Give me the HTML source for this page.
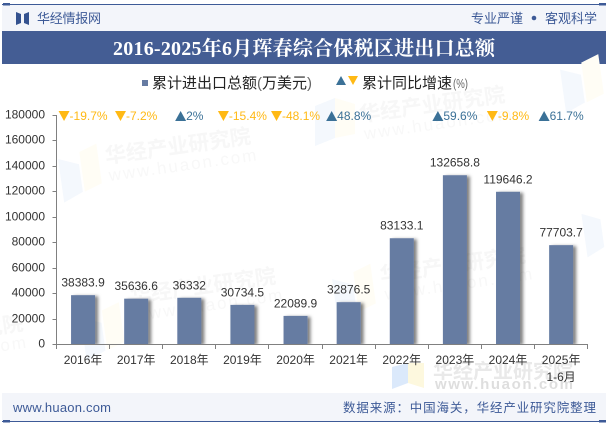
<!DOCTYPE html>
<html lang="zh-CN">
<head>
<meta charset="utf-8">
<title>2016-2025年6月珲春综合保税区进出口总额</title>
<style>
html,body{margin:0;padding:0;background:#fff;}
body{width:610px;height:425px;overflow:hidden;}
svg{display:block;}
text{font-family:"Liberation Sans","Noto Sans CJK SC",sans-serif;}
</style>
</head>
<body>
<svg id="chart" xmlns="http://www.w3.org/2000/svg" width="610" height="425" viewBox="0 0 610 425">
  <defs>
    <filter id="bar-shadow" x="-30%" y="-10%" width="180%" height="120%">
      <feDropShadow dx="3" dy="1" stdDeviation="1.6" flood-color="#000" flood-opacity="0.5"/>
    </filter>
    <clipPath id="plot-clip"><rect x="50" y="100" width="550" height="244"/></clipPath>
  </defs>

  <g>
    <rect x="2" y="5" width="604" height="26" fill="#f3f5fa"/>
    <rect x="2" y="4" width="604" height="1" fill="#3d5a97"/>
    <rect x="3" y="3" width="7" height="2.5" fill="#3d5a97"/>
    <rect x="599" y="3" width="7" height="2.5" fill="#3d5a97"/>
    <polygon points="16,12 21,14 21,23 16,25" fill="#34528f"/>
    <polygon points="29,12 24,14 24,23 29,25" fill="#34528f"/>
    <text x="37" y="23" font-size="13" fill="#3d5a97" textLength="64">华经情报网</text>
    <text x="471" y="23" font-size="13" fill="#3d5a97" textLength="52">专业严谨</text>
    <circle cx="534" cy="18" r="2.3" fill="#3d5a97"/>
    <text x="545" y="23" font-size="13" fill="#3d5a97" textLength="52">客观科学</text>
  </g>

  <g>
    <rect x="2" y="31" width="604" height="33" fill="#445d94"/>
    <text x="113" y="55" font-size="20" font-weight="700" fill="#fff" style="font-family:'Liberation Serif','Noto Serif CJK SC',serif" textLength="382">2016-2025年6月珲春综合保税区进出口总额</text>
  </g>

  <g>
    <g transform="rotate(-8 180 150)">
      <polygon points="58,142 78,150 78,178 58,186" fill="#f4f8fd"/>
      <polygon points="80,138 98,132 98,172 80,178" fill="#fffdf5"/>
      <text x="105" y="153" font-size="21" font-weight="700" fill="#f7f7f7">华经产业研究院</text>
      <text x="106" y="171" font-size="17" letter-spacing="2" fill="#f8f8f8">www.huaon.com</text>
    </g>
    <g transform="rotate(-8 430 100)">
      <text x="358" y="112" font-size="21" font-weight="700" fill="#f7f7f7">华经产业研究院</text>
      <text x="360" y="130" font-size="17" letter-spacing="2" fill="#f8f8f8">www.huaon.com</text>
      <polygon points="563,88 583,96 583,124 563,132" fill="#f4f8fd"/>
      <polygon points="585,84 603,78 603,118 585,124" fill="#fffdf5"/>
    </g>
    <g>
      <polygon points="315,106 335,98 335,138 315,146" fill="#f4f8fd"/>
      <polygon points="335,98 355,104 355,134 335,138" fill="#fffdf5"/>
    </g>
    <g transform="rotate(-8 205 290)">
      <polygon points="78,300 98,308 98,336 78,344" fill="#f4f8fd"/>
      <polygon points="100,296 118,290 118,330 100,336" fill="#fffdf5"/>
      <text x="130" y="293" font-size="21" font-weight="700" fill="#f7f7f7">华经产业研究院</text>
      <text x="132" y="311" font-size="17" letter-spacing="2" fill="#f8f8f8">www.huaon.com</text>
    </g>
    <g transform="rotate(-8 455 270)">
      <polygon points="332,262 352,270 352,298 332,306" fill="#f4f8fd"/>
      <polygon points="354,258 372,252 372,292 354,298" fill="#fffdf5"/>
      <text x="380" y="272" font-size="21" font-weight="700" fill="#f7f7f7">华经产业研究院</text>
      <text x="382" y="290" font-size="17" letter-spacing="2" fill="#f8f8f8">www.huaon.com</text>
      <polygon points="588,232 606,240 606,268 588,276" fill="#f4f8fd"/>
    </g>
    <g transform="rotate(-8 24 330)">
      <text x="24" y="330" font-size="21" font-weight="700" text-anchor="end" fill="#f7f7f7">研究院</text>
      <text x="26" y="348" font-size="17" letter-spacing="2" text-anchor="end" fill="#f8f8f8">.com</text>
    </g>
    <g>
      <polygon points="392,367 408,363 408,383 392,389" fill="#dbe9fb"/>
      <polygon points="408,363 424,363 424,388 408,383" fill="#fdf8de"/>
      <text x="433" y="378" font-size="20" font-weight="700" fill="#e9e9e9" textLength="140">华经产业研究院</text>
      <text x="435" y="389" font-size="15" font-weight="700" fill="#dedede" textLength="138">www.huaon.com</text>
    </g>
  </g>

  <g>
    <g>
      <rect x="142" y="80" width="6" height="6" fill="#667ba2"/>
      <text x="152" y="88" font-size="15" fill="#222">累计进出口总额<tspan fill="#666">(</tspan>万美元<tspan fill="#666">)</tspan></text>
    </g>
    <g>
      <polygon points="336,85 346,85 341,76" fill="#3b7197"/>
      <polygon points="348,76 358,76 353,85" fill="#ffb914"/>
      <text x="362" y="88" font-size="15" fill="#222">累计同比增速</text>
      <text x="453" y="88" font-size="13" fill="#666" textLength="15" lengthAdjust="spacingAndGlyphs">(%)</text>
    </g>
  </g>

  <g id="plot"></g>

  <g>
    <rect x="2" y="393" width="604" height="28" fill="#f3f5fa"/>
    <rect x="2" y="421" width="604" height="1" fill="#3d5a97"/>
    <rect x="3" y="420" width="7" height="2.5" fill="#3d5a97"/>
    <rect x="599" y="420" width="7" height="2.5" fill="#3d5a97"/>
    <text x="13" y="412" font-size="13" fill="#3d5a97" textLength="98">www.huaon.com</text>
    <text x="343" y="412" font-size="12.5" fill="#3d5a97" textLength="253">数据来源：中国海关，华经产业研究院整理</text>
  </g>
</svg>

<script>
const categories = ['2016年','2017年','2018年','2019年','2020年','2021年','2022年','2023年','2024年','2025年'];
const categorySubLabels = ['','','','','','','','','','1-6月'];
const totalValues = [38383.9,35636.6,36332,30734.5,22089.9,32876.5,83133.1,132658.8,119646.2,77703.7];
const valueLabels = ['38383.9','35636.6','36332','30734.5','22089.9','32876.5','83133.1','132658.8','119646.2','77703.7'];
const growthRates = [-19.7,-7.2,2,-15.4,-48.1,48.8,null,59.6,-9.8,61.7];
const yTicks = [0,20000,40000,60000,80000,100000,120000,140000,160000,180000];

const plot = document.getElementById('plot');
const NS = 'http://www.w3.org/2000/svg';
const axisLeft = 56.5, axisRight = 587.7, axisBottom = 344, axisTop = 115, yMax = 180000;
const barWidth = 24;
const band = (axisRight - axisLeft) / categories.length;
const xCenter = i => axisLeft + band * (i + 0.5);
const yPos = v => axisBottom - (v / yMax) * (axisBottom - axisTop);

function make(tag, attrs, text, parent) {
  const el = document.createElementNS(NS, tag);
  for (const k in attrs) el.setAttribute(k, attrs[k]);
  if (text !== undefined) el.textContent = text;
  (parent || plot).appendChild(el);
  return el;
}

const barGroup = make('g', {'clip-path': 'url(#plot-clip)'});



totalValues.forEach((v, i) => {
  const bar = make('rect', {x: xCenter(i) - barWidth / 2, y: yPos(v), width: barWidth, height: axisBottom - yPos(v), fill: '#667ba2', filter: 'url(#bar-shadow)'}, undefined, barGroup);
  
  
});

const yAxis = make('path', {d: `M${axisLeft} ${axisTop}V${axisBottom}`, stroke: '#808080', 'stroke-width': 1, fill: 'none'});


const xAxis = make('path', {d: `M${axisLeft} ${axisBottom + 0.5}H${axisRight}`, stroke: '#808080', 'stroke-width': 1, fill: 'none'});



yTicks.forEach(t => {
  const y = Math.round(yPos(t)) + 0.5;
  const tick = make('path', {d: `M${axisLeft - 4} ${y}H${axisLeft}`, stroke: '#808080', 'stroke-width': 1, fill: 'none'});
  
  
  const label = make('text', {x: 45, y: y + 3, 'font-size': 12, 'text-anchor': 'end', fill: '#333'}, String(t));
  
  
});

for (let i = 0; i <= categories.length; i++) {
  const x = Math.round(axisLeft + band * i - 0.5) + 0.5;
  const tick = make('path', {d: `M${x} ${axisBottom}V${axisBottom + 5}`, stroke: '#808080', 'stroke-width': 1, fill: 'none'});
  
  
}

categories.forEach((c, i) => {
  const label = make('text', {x: xCenter(i), y: 364, 'font-size': 12, 'text-anchor': 'middle', fill: '#333'}, c);
  
  
  if (categorySubLabels[i]) {
    const sub = make('text', {x: xCenter(i), y: 381, 'font-size': 12, 'text-anchor': 'middle', fill: '#333'}, categorySubLabels[i]);
    
    
  }
});

totalValues.forEach((v, i) => {
  const label = make('text', {x: xCenter(i), y: yPos(v) - 8.5, 'font-size': 12, 'text-anchor': 'middle', fill: '#333'}, valueLabels[i]);
  
  
});

growthRates.forEach((g, i) => {
  if (g === null) return;
  const up = g >= 0;
  const color = up ? '#3b7197' : '#ffb914';
  const markerW = 11;
  const label = make('text', {y: 120, 'font-size': 12, fill: color}, g + '%');
  
  
  const w = label.getComputedTextLength();
  const left = xCenter(i) - (markerW + w) / 2;
  label.setAttribute('x', left + markerW);
  const pts = up
    ? `${left},121 ${left + markerW},121 ${left + markerW / 2},111`
    : `${left},111 ${left + markerW},111 ${left + markerW / 2},121`;
  const marker = make('polygon', {points: pts, fill: color});
  
  
});
</script>
</body>
</html>
